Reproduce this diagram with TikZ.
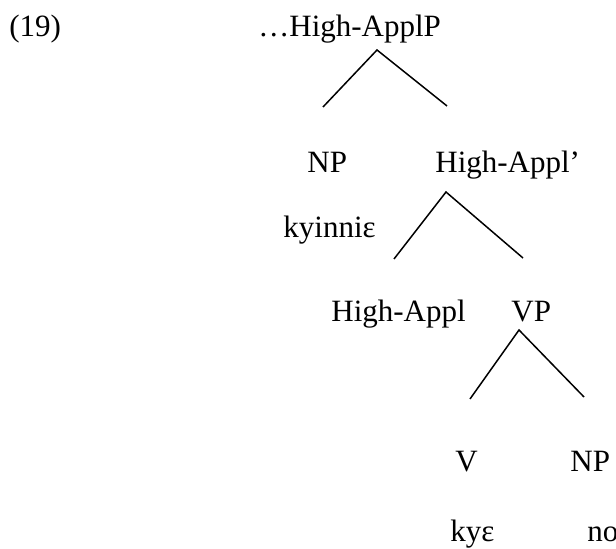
\documentclass[tikz,border=0pt]{standalone}
\usepackage{fontspec}
\setmainfont{Liberation Serif}
\begin{document}
\begin{tikzpicture}[x=0.5pt, y=-0.5pt,
    lab/.style = {anchor=base west, inner sep=0pt, font=\fontsize{15.5}{18}\selectfont},
    branch/.style = {draw, line width=0.75pt}]
    \useasboundingbox (0,0) rectangle (616,549);
    % labels
    \node[lab] (ex) at (9,37) {(19)};
    \node[lab] (applp) at (258,37) {…High-ApplP};
    \node[lab] (np1) at (307,173) {NP};
    \node[lab] (applbar) at (435,173) {High-Appl’};
    \node[lab] (kyinnie) at (283,238) {kyinniε};
    \node[lab] (appl) at (331,322) {High-Appl};
    \node[lab] (vp) at (511,322) {VP};
    \node[lab] (v) at (455,472) {V};
    \node[lab] (np2) at (570,472) {NP};
    \node[lab] (kye) at (450,542) {kyε};
    \node[lab] (no) at (587,542) {no};
    % branch ends
    \coordinate (top1) at (377,50);
    \coordinate (left1) at (323,107);
    \coordinate (right1) at (447,106);
    \coordinate (top2) at (446,192);
    \coordinate (left2) at (394,259);
    \coordinate (right2) at (523,258);
    \coordinate (top3) at (519,330);
    \coordinate (left3) at (470,399);
    \coordinate (right3) at (584,397);
    \draw[branch] (left1) -- (top1) -- (right1);
    \draw[branch] (left2) -- (top2) -- (right2);
    \draw[branch] (left3) -- (top3) -- (right3);
\end{tikzpicture}
\end{document}
